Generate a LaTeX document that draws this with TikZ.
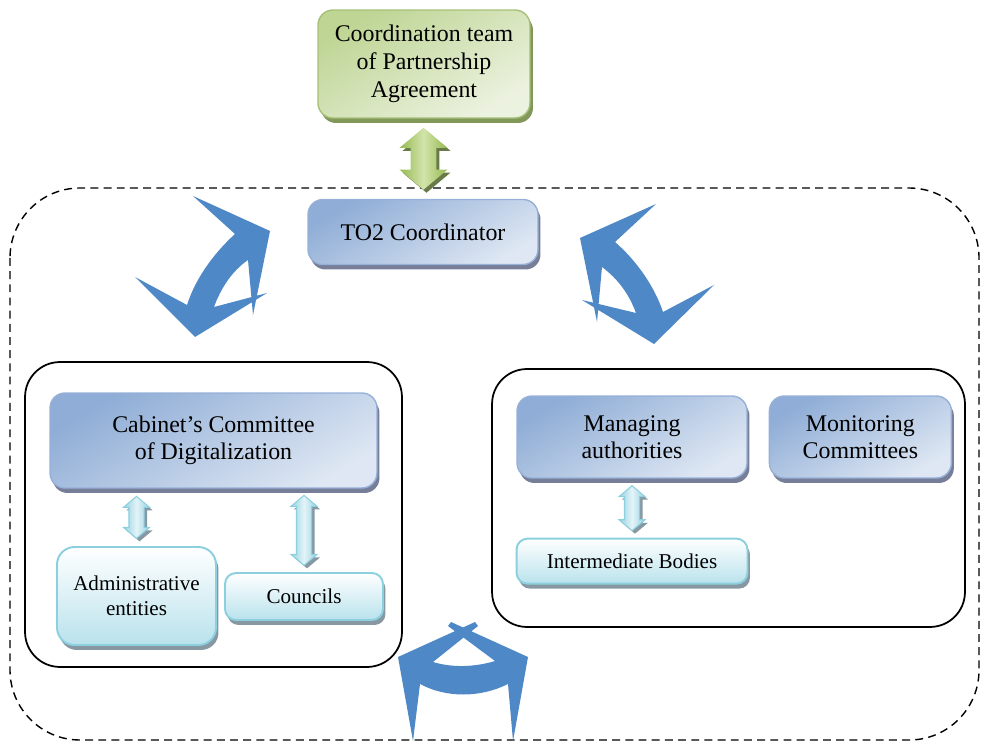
\documentclass[tikz,border=0pt]{standalone}
\usepackage{fontspec}
\setmainfont{Liberation Serif}
\usetikzlibrary{positioning,calc,shapes.arrows,shadows}

\definecolor{bluedark}{RGB}{143,173,214}
\definecolor{bluelight}{RGB}{222,231,243}
\definecolor{blueedge}{RGB}{150,176,216}
\definecolor{blueshadow}{RGB}{118,126,152}
\definecolor{greendark}{RGB}{190,213,148}
\definecolor{greenlight}{RGB}{236,242,224}
\definecolor{greenedge}{RGB}{166,192,120}
\definecolor{greenshadow}{RGB}{130,152,90}
\definecolor{arrowgreen}{RGB}{150,185,82}
\definecolor{arrowgreenlight}{RGB}{210,228,170}
\definecolor{cyanedge}{RGB}{140,208,224}
\definecolor{cyanlight}{RGB}{185,226,236}
\definecolor{cyanarrowfill}{RGB}{150,210,225}
\definecolor{cyanshadow}{RGB}{135,152,162}
\definecolor{arrowblue}{RGB}{79,136,198}

\begin{document}
\begin{tikzpicture}[x=0.02cm, y=-0.02cm,
  bluebox/.style={rectangle, rounded corners=0.3cm, draw=blueedge, line width=0.8pt,
    top color=bluedark, bottom color=bluelight, shading angle=30,
    drop shadow={shadow xshift=0.05cm, shadow yshift=-0.1cm, fill=blueshadow, opacity=1},
    align=center, font=\fontsize{13.6}{15.6}\selectfont},
  greenbox/.style={rectangle, rounded corners=0.3cm, draw=greenedge, line width=0.8pt,
    top color=greendark, bottom color=greenlight, shading angle=30,
    drop shadow={shadow xshift=0.06cm, shadow yshift=-0.1cm, fill=greenshadow, opacity=1},
    align=center, font=\fontsize{13.6}{15.9}\selectfont},
  cyanbox/.style={rectangle, rounded corners=0.22cm, draw=cyanedge, line width=1.1pt,
    top color=white, bottom color=cyanlight,
    drop shadow={shadow xshift=0.05cm, shadow yshift=-0.1cm, fill=cyanshadow, opacity=1},
    align=center, font=\fontsize{12}{14.2}\selectfont},
  groupbox/.style={rectangle, rounded corners=0.7cm, draw=black, line width=1pt},
  greenarrow/.style={double arrow, shape border rotate=90, inner sep=0.25cm,
    double arrow head extend=0.22cm, double arrow tip angle=100, minimum height=1.24cm,
    left color=arrowgreen, right color=arrowgreen, middle color=arrowgreenlight,
    drop shadow={shadow xshift=0.06cm, shadow yshift=-0.06cm, fill=greenshadow!80!black, opacity=1}},
  cyanarrow/.style={double arrow, shape border rotate=90, inner sep=0.14cm,
    double arrow head extend=0.11cm, double arrow tip angle=100, draw=cyanedge, line width=0.6pt,
    left color=cyanarrowfill, right color=cyanarrowfill, middle color=cyanlight!40,
    drop shadow={shadow xshift=0.06cm, shadow yshift=-0.06cm, fill=cyanshadow, opacity=1}}]
  \useasboundingbox (0,0) rectangle (982,742);

  % Frame
  \draw[dashed, dash pattern=on 4.5pt off 3pt, line width=0.8pt, rounded corners=1.4cm]
    (10,188) rectangle (979,740);

  % Nodes
  \node[greenbox, minimum width=4.24cm, minimum height=2.16cm] (coordteam) at (424,64)
    {Coordination team\\of Partnership\\Agreement};
  \node[bluebox, minimum width=4.6cm, minimum height=1.3cm] (to2) at (423,232) {TO2 Coordinator};

  \node[groupbox, minimum width=7.54cm, minimum height=6.1cm] (leftgroup) at (213.5,514.5) {};
  \node[groupbox, minimum width=9.46cm, minimum height=5.16cm] (rightgroup) at (728.5,498) {};

  \node[bluebox, minimum width=6.54cm, minimum height=1.9cm] (cabinet) at (213.5,440.5)
    {Cabinet’s Committee\\of Digitalization};
  \node[cyanbox, rounded corners=0.35cm, minimum width=3.18cm, minimum height=1.96cm] (admin) at (136.5,596)
    {Administrative\\entities};
  \node[cyanbox, minimum width=3.16cm, minimum height=0.94cm] (councils) at (304,596.5) {Councils};

  \node[bluebox, minimum width=4.6cm, minimum height=1.64cm] (managing) at (632,437)
    {Managing\\authorities};
  \node[bluebox, minimum width=3.64cm, minimum height=1.64cm, right=0.42cm of managing] (monitoring)
    {Monitoring\\Committees};
  \node[cyanbox, minimum width=4.62cm, minimum height=0.9cm, below=1.18cm of managing] (intermediate)
    {Intermediate Bodies};

  % Block arrows
  \node[greenarrow] (coordarrow) at ($(coordteam.south)!0.5!(to2.north)$) {};
  \node[cyanarrow, minimum height=0.84cm] (adminarrow) at ($(cabinet.south -| admin.north)!0.5!(admin.north)$) {};
  \node[cyanarrow, minimum height=1.4cm] (councilsarrow) at ($(cabinet.south -| councils.north)!0.5!(councils.north)$) {};
  \node[cyanarrow, minimum height=0.9cm] (intermarrow) at ($(managing.south)!0.5!(intermediate.north)$) {};

  % Curved arrows
  \fill[arrowblue] (270,231) -- (193,196) -- (235,234) .. controls (212,255) and (195,280) .. (187,305)
    -- (135,277) -- (195,337) -- (267,293) -- (214,307) .. controls (221,288) and (232,271) .. (248,260)
    -- (253,315) -- cycle;
  \fill[arrowblue] (580,238) -- (656,204) -- (615,242) .. controls (638,262) and (655,288) .. (663,312)
    -- (714,285) -- (654,344) -- (582,300) -- (636,313) .. controls (629,294) and (618,279) .. (602,267)
    -- (597,322) -- cycle;
  \fill[arrowblue] (413,741) -- (398,657) -- (475,622) -- (478,626) -- (433,662)
    .. controls (453,668) and (475,667) .. (495,661) -- (448,626) -- (451,622) -- (528,657)
    -- (513,741) -- (508,684) .. controls (480,698) and (446,698) .. (420,684) -- cycle;
\end{tikzpicture}
\end{document}
